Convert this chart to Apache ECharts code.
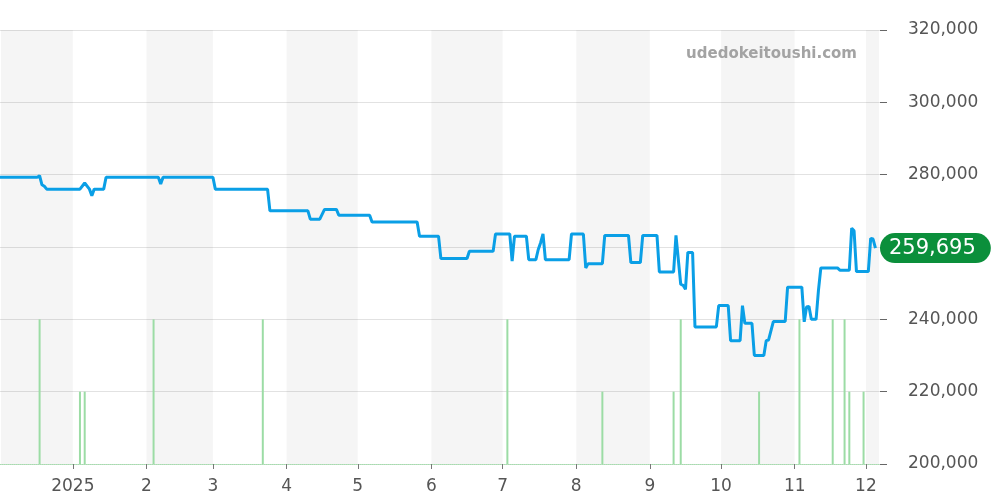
<!DOCTYPE html>
<html>
<head>
<meta charset="utf-8">
<script src="https://cdn.jsdelivr.net/npm/echarts@6/dist/echarts.min.js"></script>
<style>
html, body { margin: 0; padding: 0; background: #fff; }
#chart { width: 1000px; height: 500px; }
</style>
</head>
<body>
<div id="chart"></div>
<script>
// price (step changes, one point per day where it moves)
const priceDates = [
  '2024-12-01', '2024-12-17', '2024-12-18', '2024-12-19', '2024-12-20', '2024-12-21',
  '2025-01-04', '2025-01-06', '2025-01-08', '2025-01-09', '2025-01-10', '2025-01-14', '2025-01-15',
  '2025-02-06', '2025-02-07', '2025-02-08', '2025-03-01', '2025-03-02', '2025-03-24', '2025-03-25',
  '2025-04-10', '2025-04-11', '2025-04-15', '2025-04-17', '2025-04-22', '2025-04-23',
  '2025-05-06', '2025-05-07', '2025-05-26', '2025-05-27', '2025-06-04', '2025-06-05',
  '2025-06-16', '2025-06-17', '2025-06-27', '2025-06-28', '2025-07-04', '2025-07-05', '2025-07-06',
  '2025-07-11', '2025-07-12', '2025-07-15', '2025-07-16', '2025-07-17', '2025-07-18', '2025-07-19',
  '2025-07-29', '2025-07-30', '2025-08-04', '2025-08-05', '2025-08-06', '2025-08-12', '2025-08-13',
  '2025-08-23', '2025-08-24', '2025-08-28', '2025-08-29', '2025-09-04', '2025-09-05',
  '2025-09-11', '2025-09-12', '2025-09-14', '2025-09-15', '2025-09-16', '2025-09-17', '2025-09-19',
  '2025-09-20', '2025-09-29', '2025-09-30', '2025-10-04', '2025-10-05', '2025-10-09', '2025-10-10',
  '2025-10-11', '2025-10-14', '2025-10-15', '2025-10-19', '2025-10-20', '2025-10-21', '2025-10-23',
  '2025-10-28', '2025-10-29', '2025-11-04', '2025-11-05', '2025-11-06', '2025-11-07', '2025-11-08',
  '2025-11-10', '2025-11-11', '2025-11-12', '2025-11-19', '2025-11-20', '2025-11-24', '2025-11-25',
  '2025-11-26', '2025-11-27', '2025-12-02', '2025-12-03', '2025-12-04', '2025-12-05'
];
const priceValues = [
  279300, 279300, 279700, 277200, 276800, 276000,
  276000, 277700, 276000, 274200, 276000, 276000, 279300,
  279300, 277400, 279300, 279300, 276000, 276000, 270000,
  270000, 267700, 267700, 270400, 270400, 268800,
  268800, 266900, 266900, 263000, 263000, 256800,
  256800, 258800, 258800, 263600, 263600, 256100, 263000,
  263000, 256500, 256500, 259300, 261200, 263600, 256500,
  256500, 263600, 263600, 254200, 255400, 255400, 263200,
  263200, 255700, 255700, 263200, 263200, 253100,
  253100, 263200, 249700, 249400, 248300, 258500, 258500,
  237900, 237900, 243800, 243800, 234100, 234100, 243800,
  238900, 238900, 230000, 230000, 234100, 234300, 239400,
  239400, 248900, 248900, 239300, 243400, 243600, 240000,
  240000, 248000, 254200, 254200, 253600, 253600, 265200,
  264500, 253200, 253200, 262400, 262200, 259695
];

// trades per day
const volumeDates = [
  '2024-12-18', '2025-01-04', '2025-01-06', '2025-02-04', '2025-03-22', '2025-07-03', '2025-08-12',
  '2025-09-11', '2025-09-14', '2025-10-17', '2025-11-03', '2025-11-17', '2025-11-22', '2025-11-24',
  '2025-11-30'
];
const volumeValues = [2, 1, 1, 2, 2, 2, 1, 1, 2, 1, 2, 2, 2, 1, 1];

const monthStarts = [
  '2025-01-01', '2025-02-01', '2025-03-01', '2025-04-01', '2025-05-01', '2025-06-01',
  '2025-07-01', '2025-08-01', '2025-09-01', '2025-10-01', '2025-11-01', '2025-12-01'
];
const monthLabels = ['2025', '2', '3', '4', '5', '6', '7', '8', '9', '10', '11', '12'];
const shadedMonths = ['2024-12-01', '2025-02-01', '2025-04-01', '2025-06-01', '2025-08-01', '2025-10-01', '2025-12-01'];

const xStart = '2024-12-01 18';
const xEnd = '2025-12-06 12';

function ts(s) {
  const [d, h] = s.split(' ');
  const [y, m, dd] = d.split('-').map(Number);
  return new Date(y, m - 1, dd, h ? Number(h) : 0).getTime();
}
function nextMonth(s) {
  const [y, m] = s.split('-').map(Number);
  return new Date(y, m, 1).getTime();
}
function fmt(v) {
  return String(v).replace(/\B(?=(\d{3})+(?!\d))/g, ',');
}

const xMin = ts(xStart);
const xMax = ts(xEnd);
const labelByTime = {};
monthStarts.forEach((s, i) => { labelByTime[ts(s)] = monthLabels[i]; });

const shading = shadedMonths.map(s => [
  { xAxis: Math.max(ts(s), xMin) },
  { xAxis: Math.min(nextMonth(s), xMax) }
]);

const lastPrice = priceValues[priceValues.length - 1];

const chart = echarts.init(document.getElementById('chart'));
chart.setOption({
  animation: false,
  textStyle: { fontFamily: 'DejaVu Sans' },
  title: {
    text: 'udedokeitoushi.com',
    right: 143,
    top: 47,
    padding: 0,
    textStyle: { color: '#a3a3a3', fontSize: 15, fontWeight: 'bold' }
  },
  grid: { left: 0, right: 120, top: 30, bottom: 36 },
  xAxis: {
    type: 'time',
    min: xMin,
    max: xMax,
    minInterval: 28 * 864e5,
    maxInterval: 31 * 864e5,
    splitLine: { show: false },
    axisLine: { lineStyle: { color: '#a6dcae', type: 'dotted', width: 1 } },
    axisTick: { show: true, length: 5, lineStyle: { color: '#777' } },
    axisLabel: {
      fontSize: 17,
      color: '#555',
      margin: 14,
      hideOverlap: false,
      formatter: v => labelByTime[v] || ''
    }
  },
  yAxis: [
    {
      type: 'value',
      position: 'right',
      min: 200000,
      max: 320000,
      interval: 20000,
      axisLine: { show: false },
      axisTick: { show: true, length: 7, lineStyle: { color: '#666' } },
      axisLabel: { fontSize: 17, color: '#555', margin: 28, padding: [4, 0, 0, 0], formatter: v => fmt(v) },
      splitLine: { lineStyle: { color: '#e2e2e2' } }
    },
    {
      type: 'value',
      min: 0,
      max: 6,
      show: false,
      splitLine: { show: false }
    }
  ],
  series: [
    {
      name: 'volume',
      type: 'bar',
      yAxisIndex: 1,
      barWidth: 2,
      z: 1,
      itemStyle: { color: '#9cdca5' },
      data: volumeDates.map((d, i) => [ts(d), volumeValues[i]]),
      markArea: {
        silent: true,
        itemStyle: { color: 'rgba(0,0,0,0.04)' },
        data: shading
      }
    },
    {
      name: 'price',
      type: 'line',
      z: 3,
      symbol: 'none',
      lineStyle: { color: '#0a9fe6', width: 3 },
      data: priceDates.map((d, i) => [ts(d), priceValues[i]]),
      markLine: {
        silent: true,
        symbol: 'none',
        lineStyle: { color: 'rgba(0,0,0,0)', width: 0 },
        label: {
          show: true,
          position: 'end',
          distance: 0,
          formatter: () => fmt(lastPrice),
          color: '#fff',
          fontSize: 21,
          backgroundColor: '#0b8f3b',
          borderRadius: 16,
          padding: [5, 15, 4, 9]
        },
        data: [{ yAxis: lastPrice }]
      }
    }
  ]
});
</script>
</body>
</html>
